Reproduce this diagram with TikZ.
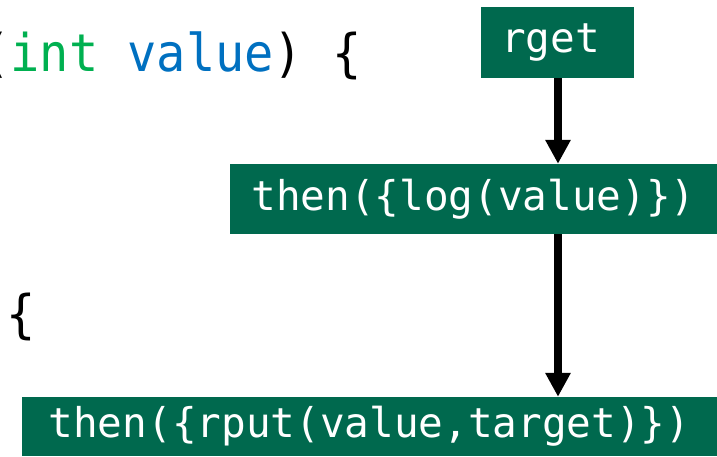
\documentclass[tikz,border=0pt]{standalone}
\usepackage{fontspec}
\newfontfamily\codefont{DejaVu Sans Mono}
\newfontfamily\codefontwide[FakeStretch=0.935]{DejaVu Sans Mono}
\usetikzlibrary{arrows.meta}
\definecolor{boxgreen}{RGB}{0,105,78}
\definecolor{kwgreen}{RGB}{0,176,80}
\definecolor{idblue}{RGB}{0,112,192}
\tikzset{
  opbox/.style={draw=none, fill=boxgreen, text=white, inner sep=0pt,
    font=\codefont\fontsize{41}{49}\selectfont, anchor=center},
  codetext/.style={inner sep=0pt, anchor=base west,
    font=\codefontwide\fontsize{52}{60}\selectfont},
  flow/.style={line width=8pt, -{Triangle[width=24pt,length=24pt]}}
}
\begin{document}
\begin{tikzpicture}[x=1pt,y=-1pt]
\useasboundingbox (0,0) rectangle (717,456);
\node[codetext] (sig) at (-19,71) {(\textcolor{kwgreen}{int} \textcolor{idblue}{value}) \{};
\node[codetext] (brace) at (6,332) {\{};
\node[opbox, minimum width=153pt, minimum height=71pt, text width=113pt, inner xsep=20pt, align=left] (rget) at (557.5,42.5) {rget};
\node[opbox, minimum width=487pt, minimum height=70pt] (log) at (473.5,199) {then(\{log(value)\})};
\node[opbox, minimum width=695pt, minimum height=59pt] (rput) at (369.5,426.5) {then(\{rput(value,target)\})};
\draw[flow] (rget.south -| 558,0) -- (log.north -| 558,0);
\draw[flow] (log.south -| 558,0) -- (rput.north -| 558,0);
\end{tikzpicture}
\end{document}
